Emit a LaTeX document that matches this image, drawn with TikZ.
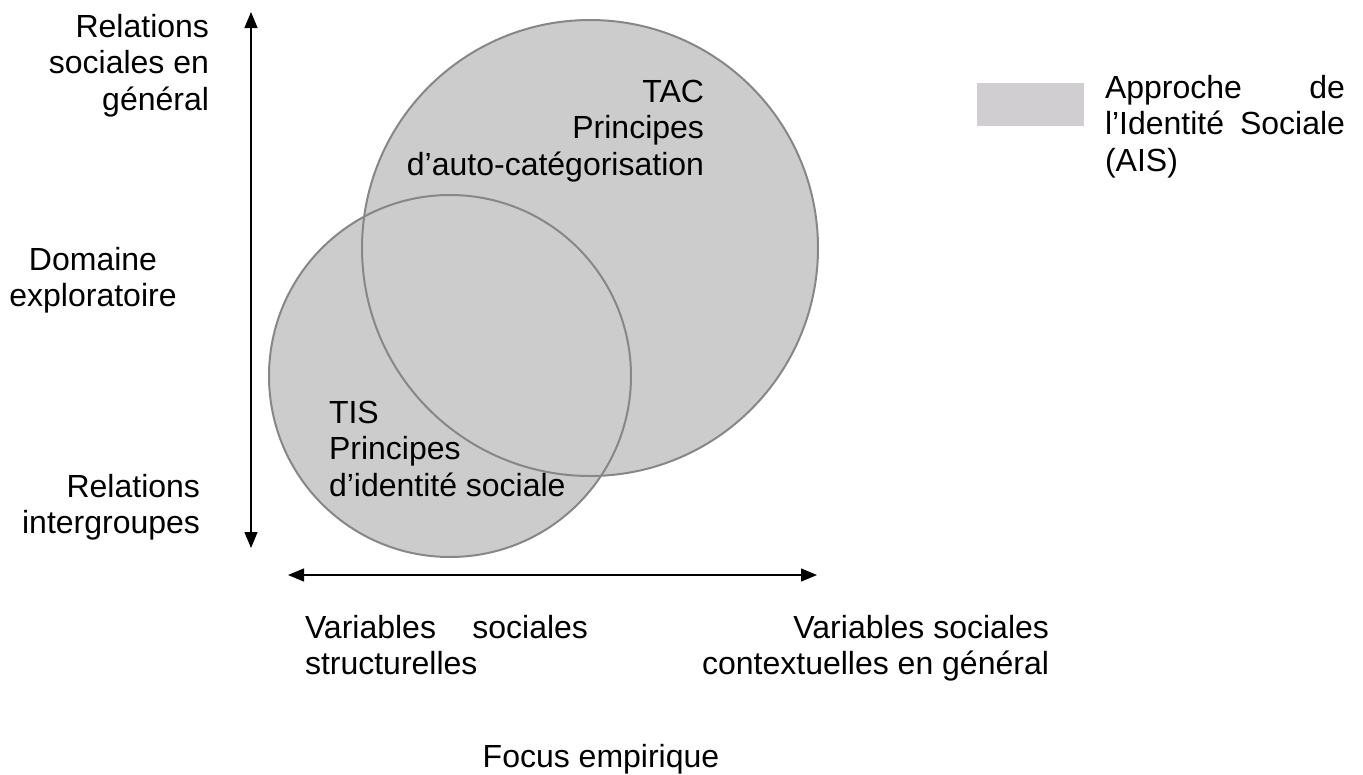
\documentclass[tikz,border=0pt]{standalone}
\usepackage{fontspec}
\setmainfont{Liberation Sans}
\usetikzlibrary{arrows.meta}
\definecolor{circfill}{HTML}{CCCCCC}
\definecolor{circline}{HTML}{878787}
\definecolor{legfill}{HTML}{D0CED0}
\tikzset{
  lbl/.style={font=\fontsize{32}{36.8}\selectfont, inner sep=0pt, outer sep=0pt},
  axis/.style={line width=1.3pt, {Triangle[length=16pt,width=13pt]}-{Triangle[length=16pt,width=13pt]}},
  circ/.style={draw=circline, line width=2pt},
}
\begin{document}
\begin{tikzpicture}[x=1pt,y=-1pt]
\useasboundingbox (0,0) rectangle (1363,774);
% circles
\fill[circfill] (590,248) circle[radius=228];
\fill[circfill] (450,376) circle[radius=181];
\draw[circ] (590,248) circle[radius=228];
\draw[circ] (450,376) circle[radius=181];
\node[coordinate] (tac) at (590,248) {};
\node[coordinate] (tis) at (450,376) {};
% axes
\coordinate (vtop) at (251,12);
\coordinate (vbot) at (251,548);
\coordinate (hleft) at (288,575);
\coordinate (hright) at (817,575);
\draw[axis] (vtop) -- (vbot);
\draw[axis] (hleft) -- (hright);
% labels
\node[lbl, anchor=base east] (rsg) at (209,37) {\begin{tabular}[t]{@{}r@{}}Relations\\sociales en\\général\end{tabular}};
\node[lbl, anchor=base] (dom) at (93,270) {\begin{tabular}[t]{@{}c@{}}Domaine\\exploratoire\end{tabular}};
\node[lbl, anchor=base east] (rig) at (200,497) {\begin{tabular}[t]{@{}r@{}}Relations\\intergroupes\end{tabular}};
\node[lbl, anchor=base east] (tacl) at (704,102) {\begin{tabular}[t]{@{}r@{}}TAC\\Principes\\d’auto-catégorisation\end{tabular}};
\node[lbl, anchor=base west] (tisl) at (329,423) {\begin{tabular}[t]{@{}l@{}}TIS\\Principes\\d’identité sociale\end{tabular}};
% legend
\fill[legfill] (977,83) rectangle (1084,126);
\node[coordinate] (legbox) at (1030,104) {};
\node[lbl, anchor=base west] (legt) at (1105,98) {\begin{tabular}[t]{@{}p{240pt}@{}}Approche\hfill de\\l’Identité\hfill Sociale\\(AIS)\end{tabular}};
% bottom
\node[lbl, anchor=base west] (vss) at (305,638) {\begin{tabular}[t]{@{}p{283pt}@{}}Variables\hfill sociales\\structurelles\end{tabular}};
\node[lbl, anchor=base east] (vsc) at (1049,638) {\begin{tabular}[t]{@{}r@{}}Variables sociales\\contextuelles en général\end{tabular}};
\node[lbl, anchor=base] (foc) at (601,767) {Focus empirique};
\end{tikzpicture}
\end{document}
